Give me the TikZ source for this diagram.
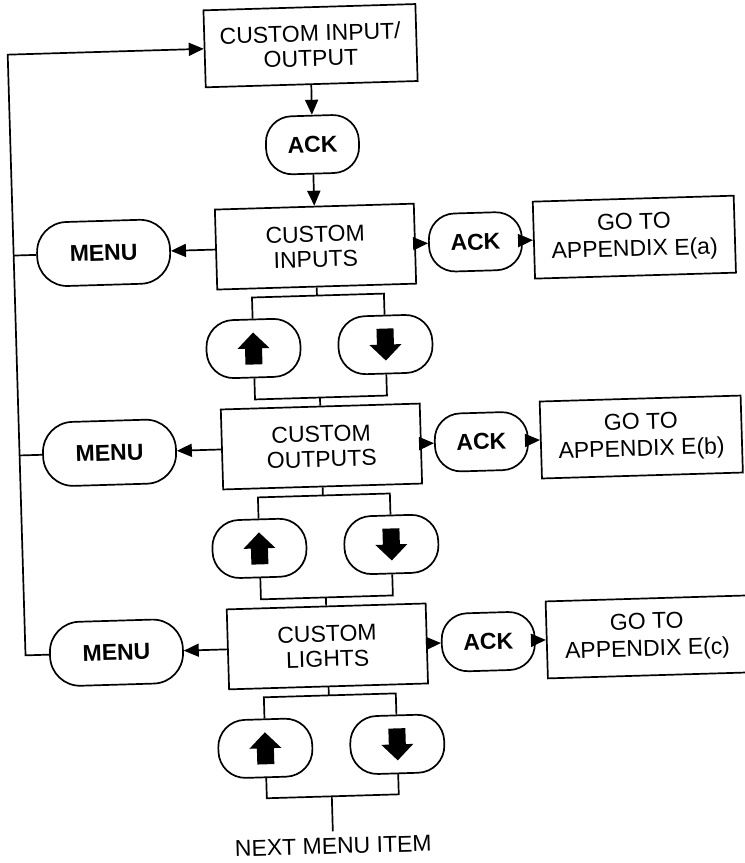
\documentclass[tikz,border=0pt]{standalone}
\usepackage{fontspec}
\setmainfont{Liberation Sans}
\usetikzlibrary{arrows.meta}
\begin{document}
\begin{tikzpicture}[x=0.5pt,y=-0.5pt,
  line width=0.85pt,
  txt/.style={font=\fontsize{11.5}{12.5}\selectfont, align=center, inner sep=0pt},
  mainbox/.style={txt, draw, minimum width=99.5pt, minimum height=40pt},
  topbox/.style={txt, draw, minimum width=106pt, minimum height=38.5pt},
  appbox/.style={draw, inner sep=0pt, align=center, font=\fontsize{11.5}{13.5}\selectfont, minimum width=100.5pt, minimum height=38.5pt},
  ackbtn/.style={txt, draw, font=\fontsize{11.5}{12.5}\selectfont\bfseries, rounded corners=13pt, minimum width=46.5pt, minimum height=29pt},
  menubtn/.style={txt, draw, font=\fontsize{11.5}{12.5}\selectfont\bfseries, rounded corners=15pt, minimum width=66.5pt, minimum height=32pt},
  keybtn/.style={draw, inner sep=0pt, rounded corners=13.5pt, minimum width=47pt, minimum height=29pt},
  arr/.style={-{Triangle[length=7.5pt,width=6.5pt]}},
  uparr/.pic={\fill (0,-16) -- (16,0) -- (8.5,0) -- (8.5,16) -- (-8.5,16) -- (-8.5,0) -- (-16,0) -- cycle;},
  dnarr/.pic={\fill (0,16) -- (16,0) -- (8.5,0) -- (8.5,-16) -- (-8.5,-16) -- (-8.5,0) -- (-16,0) -- cycle;}
]
\useasboundingbox (0,0) rectangle (745,863);
\begin{scope}[rotate around={1.7:(372,431)}, transform shape]
  % top
  \node[topbox] (io) at (322,44) {CUSTOM INPUT/\\OUTPUT};
  \node[ackbtn] (ack0) at (321,143) {ACK};
  % row 1
  \node[mainbox] (inp) at (321,245) {CUSTOM\\INPUTS};
  \node[menubtn] (menu1) at (109,245) {MENU};
  \node[ackbtn] (ack1) at (481,245) {ACK};
  \node[appbox] (appa) at (640,245) {GO TO\\APPENDIX E(a)};
  \node[keybtn] (up1) at (256,345) {};
  \node[keybtn] (dn1) at (388,345) {};
  \pic at (256,345) {uparr};
  \pic at (388,345) {dnarr};
  % row 2
  \node[mainbox] (out) at (321,445) {CUSTOM\\OUTPUTS};
  \node[menubtn] (menu2) at (109,445) {MENU};
  \node[ackbtn] (ack2) at (481,445) {ACK};
  \node[appbox] (appb) at (641,445) {GO TO\\APPENDIX E(b)};
  \node[keybtn] (up2) at (256,545) {};
  \node[keybtn] (dn2) at (388,545) {};
  \pic at (256,545) {uparr};
  \pic at (388,545) {dnarr};
  % row 3
  \node[mainbox] (lights) at (321,645) {CUSTOM\\LIGHTS};
  \node[menubtn] (menu3) at (110,645) {MENU};
  \node[ackbtn] (ack3) at (482,645) {ACK};
  \node[appbox] (appc) at (641,645) {GO TO\\APPENDIX E(c)};
  \node[keybtn] (up3) at (256,745) {};
  \node[keybtn] (dn3) at (388,745) {};
  \pic at (256,745) {uparr};
  \pic at (388,745) {dnarr};
  \node[txt, anchor=north, inner sep=3pt] (next) at (321,830) {NEXT MENU ITEM};

  % bracket junctions
  \coordinate (b1) at (321,294);
  \coordinate (c1) at (321,396);
  \coordinate (b2) at (321,494);
  \coordinate (c2) at (321,596);
  \coordinate (b3) at (321,694);
  \coordinate (c3) at (321,795);
  \coordinate (L0) at (19,44);
  \coordinate (L3) at (19,645);

  % vertical flow
  \draw[arr] (io) -- (ack0);
  \draw[arr] (ack0) -- (inp);
  % row connectors
  \draw[arr] (inp) -- (menu1);
  \draw[arr] (inp) -- (ack1);
  \draw[arr] (ack1) -- (appa);
  \draw[arr] (out) -- (menu2);
  \draw[arr] (out) -- (ack2);
  \draw[arr] (ack2) -- (appb);
  \draw[arr] (lights) -- (menu3);
  \draw[arr] (lights) -- (ack3);
  \draw[arr] (ack3) -- (appc);
  % brackets
  \draw (inp) -- (b1);
  \draw (up1) |- (b1) -| (dn1);
  \draw (up1) |- (c1) -| (dn1);
  \draw (c1) -- (out);
  \draw (out) -- (b2);
  \draw (up2) |- (b2) -| (dn2);
  \draw (up2) |- (c2) -| (dn2);
  \draw (c2) -- (lights);
  \draw (lights) -- (b3);
  \draw (up3) |- (b3) -| (dn3);
  \draw (up3) |- (c3) -| (dn3);
  \draw (c3) -- (next);
  % menu return line
  \draw[arr] (menu3.west) -- (L3) -- (L0) -- (io.west);
  \draw (menu1.west) -- (menu1.west -| L0);
  \draw (menu2.west) -- (menu2.west -| L0);
\end{scope}
\end{tikzpicture}
\end{document}
